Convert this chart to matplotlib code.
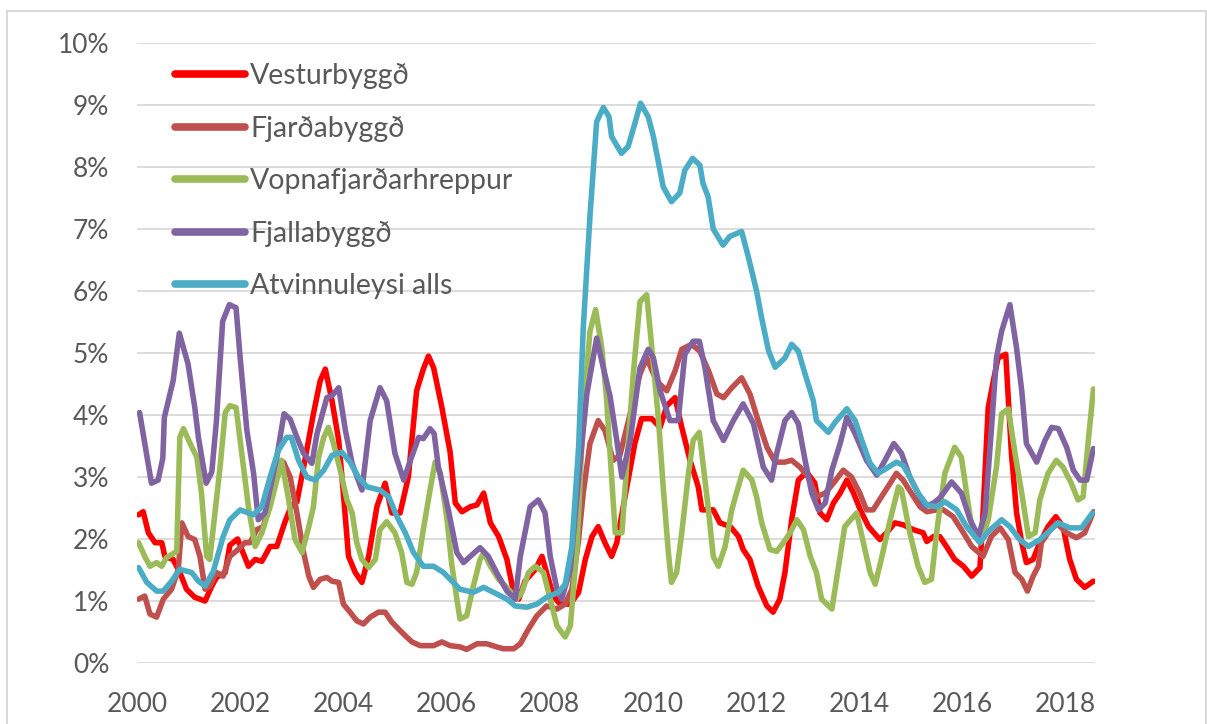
import matplotlib
matplotlib.use("Agg")
import matplotlib.pyplot as plt
from matplotlib.patches import Rectangle
from matplotlib.ticker import FuncFormatter, MultipleLocator

plt.rcParams['font.family'] = ['Lato', 'DejaVu Sans']

# ---- data (decimal year, unemployment %) ----
vest_t = [2000.03, 2000.12, 2000.22, 2000.35, 2000.48, 2000.54, 2000.70, 2000.83, 2000.96, 2001.12,
          2001.32, 2001.45, 2001.54, 2001.71, 2001.80, 2001.95, 2002.16, 2002.29, 2002.42, 2002.58,
          2002.71, 2002.87, 2003.00, 2003.10, 2003.23, 2003.42, 2003.55, 2003.65, 2003.78, 2003.91,
          2004.00, 2004.10, 2004.23, 2004.36, 2004.49, 2004.65, 2004.81, 2004.94, 2005.10, 2005.26,
          2005.42, 2005.55, 2005.65, 2005.75, 2005.91, 2006.07, 2006.17, 2006.30, 2006.46, 2006.59,
          2006.72, 2006.85, 2007.01, 2007.17, 2007.30, 2007.40, 2007.52, 2007.72, 2007.85, 2007.94,
          2008.07, 2008.20, 2008.40, 2008.56, 2008.69, 2008.82, 2008.94, 2009.07, 2009.20, 2009.30,
          2009.46, 2009.65, 2009.78, 2009.98, 2010.14, 2010.27, 2010.43, 2010.56, 2010.72, 2010.88,
          2010.95, 2011.17, 2011.30, 2011.50, 2011.66, 2011.75, 2011.88, 2012.04, 2012.21, 2012.33,
          2012.46, 2012.56, 2012.69, 2012.82, 2012.98, 2013.14, 2013.24, 2013.37, 2013.50, 2013.63,
          2013.76, 2013.89, 2014.02, 2014.18, 2014.40, 2014.53, 2014.69, 2014.85, 2015.05, 2015.24,
          2015.31, 2015.44, 2015.56, 2015.69, 2015.85, 2016.02, 2016.18, 2016.34, 2016.40, 2016.50,
          2016.60, 2016.69, 2016.84, 2016.95, 2017.05, 2017.15, 2017.24, 2017.37, 2017.50, 2017.66,
          2017.81, 2017.95, 2018.08, 2018.21, 2018.37, 2018.54]
vest_v = [2.39, 2.44, 2.10, 1.94, 1.94, 1.72, 1.67, 1.46, 1.19, 1.06,
          1.00, 1.24, 1.38, 1.46, 1.90, 2.00, 1.56, 1.67, 1.64, 1.88,
          1.88, 2.28, 2.55, 2.60, 3.16, 4.02, 4.55, 4.74, 4.23, 3.59,
          2.74, 1.72, 1.46, 1.30, 1.72, 2.52, 2.90, 2.42, 2.42, 3.00,
          4.39, 4.74, 4.95, 4.76, 4.12, 3.40, 2.58, 2.44, 2.52, 2.55,
          2.74, 2.26, 2.04, 1.67, 1.14, 1.03, 1.32, 1.51, 1.72, 1.46,
          1.08, 0.95, 0.95, 1.14, 1.67, 2.04, 2.20, 1.94, 1.72, 1.94,
          2.68, 3.54, 3.94, 3.94, 3.80, 4.15, 4.28, 3.80, 3.27, 2.84,
          2.47, 2.47, 2.26, 2.20, 2.04, 1.83, 1.67, 1.24, 0.92, 0.82,
          1.03, 1.46, 2.31, 2.95, 3.08, 2.90, 2.42, 2.31, 2.58, 2.74,
          2.95, 2.74, 2.47, 2.20, 1.99, 2.10, 2.26, 2.23, 2.15, 2.10,
          1.96, 2.04, 2.04, 1.88, 1.67, 1.56, 1.40, 1.54, 2.42, 4.12,
          4.55, 4.92, 4.98, 3.38, 2.42, 1.94, 1.62, 1.67, 1.94, 2.20,
          2.36, 2.20, 1.67, 1.35, 1.22, 1.32]

fjar_t = [2000.03, 2000.15, 2000.25, 2000.38, 2000.51, 2000.67, 2000.80, 2000.87, 2000.99, 2001.12,
          2001.22, 2001.32, 2001.41, 2001.54, 2001.67, 2001.80, 2001.96, 2002.09, 2002.19, 2002.32,
          2002.45, 2002.61, 2002.74, 2002.84, 2002.97, 2003.10, 2003.23, 2003.33, 2003.42, 2003.55,
          2003.68, 2003.78, 2003.91, 2004.00, 2004.13, 2004.26, 2004.39, 2004.52, 2004.68, 2004.81,
          2004.94, 2005.07, 2005.20, 2005.33, 2005.49, 2005.75, 2005.91, 2006.07, 2006.26, 2006.39,
          2006.59, 2006.78, 2006.97, 2007.10, 2007.30, 2007.43, 2007.59, 2007.75, 2007.94, 2008.14,
          2008.30, 2008.43, 2008.56, 2008.65, 2008.78, 2008.94, 2009.07, 2009.23, 2009.36, 2009.56,
          2009.75, 2009.88, 2010.07, 2010.27, 2010.43, 2010.56, 2010.75, 2010.91, 2011.08, 2011.24,
          2011.37, 2011.53, 2011.72, 2011.88, 2012.04, 2012.21, 2012.37, 2012.56, 2012.69, 2012.85,
          2013.01, 2013.17, 2013.34, 2013.50, 2013.69, 2013.85, 2014.01, 2014.14, 2014.27, 2014.43,
          2014.60, 2014.72, 2014.85, 2015.01, 2015.18, 2015.31, 2015.50, 2015.63, 2015.82, 2016.02,
          2016.18, 2016.40, 2016.56, 2016.73, 2016.89, 2017.02, 2017.15, 2017.26, 2017.37, 2017.47,
          2017.53, 2017.66, 2017.82, 2018.02, 2018.21, 2018.37, 2018.54]
fjar_v = [1.03, 1.08, 0.79, 0.74, 1.03, 1.19, 1.51, 2.26, 2.04, 1.99,
          1.72, 1.19, 1.24, 1.46, 1.40, 1.72, 1.83, 1.94, 1.94, 2.15,
          2.20, 2.74, 3.06, 3.24, 3.00, 2.42, 1.78, 1.40, 1.22, 1.35,
          1.38, 1.32, 1.30, 0.95, 0.82, 0.68, 0.63, 0.74, 0.82, 0.82,
          0.66, 0.55, 0.44, 0.34, 0.28, 0.28, 0.34, 0.28, 0.26, 0.22,
          0.31, 0.31, 0.26, 0.23, 0.23, 0.31, 0.55, 0.76, 0.92, 0.87,
          0.95, 1.19, 1.99, 2.74, 3.54, 3.91, 3.75, 3.27, 3.35, 4.02,
          4.66, 4.92, 4.55, 4.39, 4.71, 5.06, 5.14, 5.03, 4.71, 4.34,
          4.28, 4.44, 4.60, 4.34, 3.91, 3.48, 3.24, 3.24, 3.27, 3.16,
          3.00, 2.68, 2.74, 2.90, 3.11, 3.00, 2.74, 2.47, 2.47, 2.68,
          2.90, 3.06, 2.95, 2.74, 2.52, 2.44, 2.47, 2.47, 2.36, 2.10,
          1.88, 1.72, 2.04, 2.18, 1.99, 1.46, 1.35, 1.16, 1.40, 1.56,
          1.94, 2.10, 2.26, 2.10, 2.02, 2.10, 2.44]

vopn_t = [2000.03, 2000.15, 2000.25, 2000.38, 2000.48, 2000.57, 2000.77, 2000.83, 2000.90, 2001.03,
          2001.16, 2001.25, 2001.35, 2001.41, 2001.51, 2001.61, 2001.71, 2001.80, 2001.92, 2002.03,
          2002.16, 2002.29, 2002.42, 2002.58, 2002.71, 2002.80, 2002.93, 2003.06, 2003.20, 2003.33,
          2003.42, 2003.52, 2003.62, 2003.71, 2003.81, 2003.94, 2004.07, 2004.17, 2004.26, 2004.36,
          2004.49, 2004.62, 2004.71, 2004.84, 2005.00, 2005.13, 2005.23, 2005.33, 2005.42, 2005.55,
          2005.68, 2005.78, 2005.88, 2006.01, 2006.10, 2006.20, 2006.26, 2006.39, 2006.52, 2006.65,
          2006.72, 2006.85, 2007.01, 2007.20, 2007.36, 2007.46, 2007.59, 2007.72, 2007.88, 2008.01,
          2008.14, 2008.30, 2008.40, 2008.53, 2008.65, 2008.78, 2008.89, 2009.01, 2009.10, 2009.20,
          2009.27, 2009.40, 2009.49, 2009.62, 2009.75, 2009.88, 2009.98, 2010.11, 2010.20, 2010.30,
          2010.36, 2010.46, 2010.56, 2010.69, 2010.78, 2010.90, 2010.98, 2011.07, 2011.17, 2011.27,
          2011.40, 2011.53, 2011.62, 2011.75, 2011.92, 2012.01, 2012.11, 2012.27, 2012.40, 2012.53,
          2012.66, 2012.79, 2012.92, 2013.05, 2013.17, 2013.27, 2013.47, 2013.60, 2013.72, 2013.95,
          2014.08, 2014.21, 2014.31, 2014.44, 2014.60, 2014.76, 2014.82, 2014.98, 2015.14, 2015.27,
          2015.40, 2015.50, 2015.58, 2015.66, 2015.85, 2015.98, 2016.08, 2016.18, 2016.34, 2016.50,
          2016.66, 2016.76, 2016.89, 2017.02, 2017.15, 2017.28, 2017.41, 2017.50, 2017.66, 2017.82,
          2017.95, 2018.11, 2018.24, 2018.34, 2018.44, 2018.54]
vopn_v = [1.94, 1.72, 1.56, 1.62, 1.56, 1.70, 1.80, 3.64, 3.78, 3.54,
          3.32, 2.74, 1.72, 1.67, 2.42, 3.16, 4.04, 4.15, 4.12, 3.38,
          2.52, 1.88, 2.10, 2.52, 2.95, 3.27, 2.68, 2.00, 1.78, 2.20,
          2.52, 3.32, 3.64, 3.80, 3.54, 3.11, 2.63, 2.42, 1.94, 1.67,
          1.54, 1.67, 2.15, 2.28, 2.10, 1.78, 1.30, 1.27, 1.46, 2.15,
          2.79, 3.24, 3.06, 2.31, 1.60, 1.03, 0.71, 0.76, 1.24, 1.67,
          1.78, 1.56, 1.35, 1.19, 1.03, 1.14, 1.46, 1.56, 1.46, 1.03,
          0.60, 0.42, 0.60, 1.88, 4.02, 5.35, 5.70, 5.08, 4.28, 3.00,
          2.10, 2.10, 3.16, 4.66, 5.83, 5.94, 5.08, 3.91, 2.84, 1.78,
          1.30, 1.46, 2.10, 3.06, 3.59, 3.72, 3.16, 2.52, 1.72, 1.56,
          1.88, 2.47, 2.74, 3.11, 2.95, 2.68, 2.26, 1.83, 1.80, 1.94,
          2.10, 2.31, 2.15, 1.72, 1.46, 1.03, 0.87, 1.56, 2.20, 2.42,
          1.94, 1.46, 1.27, 1.72, 2.31, 2.84, 2.79, 2.10, 1.56, 1.30,
          1.35, 2.10, 2.60, 3.06, 3.48, 3.32, 2.74, 2.20, 1.94, 2.31,
          3.16, 4.02, 4.10, 3.38, 2.74, 2.04, 2.10, 2.63, 3.06, 3.27,
          3.16, 2.90, 2.63, 2.68, 3.59, 4.42]

fjal_t = [2000.05, 2000.15, 2000.28, 2000.41, 2000.50, 2000.53, 2000.70, 2000.82, 2000.99, 2001.12,
          2001.19, 2001.34, 2001.45, 2001.54, 2001.66, 2001.79, 2001.92, 2002.00, 2002.13, 2002.26,
          2002.35, 2002.48, 2002.71, 2002.85, 2002.97, 2003.10, 2003.23, 2003.39, 2003.49, 2003.68,
          2003.78, 2003.91, 2004.04, 2004.17, 2004.36, 2004.52, 2004.71, 2004.84, 2005.00, 2005.17,
          2005.30, 2005.46, 2005.55, 2005.68, 2005.76, 2005.84, 2006.04, 2006.20, 2006.33, 2006.46,
          2006.65, 2006.81, 2006.97, 2007.17, 2007.33, 2007.43, 2007.62, 2007.78, 2007.91, 2008.01,
          2008.14, 2008.23, 2008.40, 2008.56, 2008.72, 2008.91, 2009.04, 2009.17, 2009.30, 2009.40,
          2009.56, 2009.75, 2009.91, 2010.01, 2010.14, 2010.33, 2010.49, 2010.62, 2010.78, 2010.90,
          2011.01, 2011.17, 2011.37, 2011.56, 2011.75, 2011.95, 2012.14, 2012.30, 2012.40, 2012.56,
          2012.69, 2012.82, 2012.95, 2013.08, 2013.21, 2013.34, 2013.47, 2013.63, 2013.76, 2013.92,
          2014.14, 2014.34, 2014.50, 2014.67, 2014.82, 2014.98, 2015.14, 2015.27, 2015.44, 2015.56,
          2015.79, 2015.98, 2016.15, 2016.31, 2016.44, 2016.56, 2016.66, 2016.76, 2016.92, 2017.05,
          2017.15, 2017.24, 2017.44, 2017.60, 2017.73, 2017.86, 2018.02, 2018.15, 2018.28, 2018.41,
          2018.54]
fjal_v = [4.04, 3.54, 2.90, 2.95, 3.30, 3.96, 4.55, 5.32, 4.82, 4.12,
          3.64, 2.90, 3.08, 3.91, 5.51, 5.78, 5.73, 4.92, 3.75, 3.06,
          2.31, 2.42, 3.32, 4.02, 3.93, 3.64, 3.38, 3.22, 3.70, 4.28,
          4.31, 4.44, 3.75, 3.22, 2.79, 3.91, 4.44, 4.23, 3.38, 2.95,
          3.27, 3.64, 3.62, 3.78, 3.70, 3.17, 2.45, 1.78, 1.62, 1.72,
          1.86, 1.72, 1.46, 1.16, 1.03, 1.72, 2.52, 2.63, 2.42, 1.72,
          1.19, 1.03, 1.51, 3.00, 4.34, 5.24, 4.76, 4.30, 3.59, 3.00,
          3.59, 4.76, 5.06, 4.92, 4.39, 3.91, 3.91, 4.98, 5.19, 5.19,
          4.76, 3.91, 3.59, 3.91, 4.18, 3.86, 3.16, 2.95, 3.38, 3.91,
          4.04, 3.86, 3.27, 2.74, 2.47, 2.58, 3.11, 3.54, 3.96, 3.70,
          3.27, 3.03, 3.27, 3.54, 3.38, 3.00, 2.74, 2.52, 2.58, 2.66,
          2.92, 2.74, 2.31, 2.04, 2.42, 3.75, 4.92, 5.35, 5.78, 5.08,
          4.39, 3.54, 3.24, 3.59, 3.80, 3.78, 3.48, 3.11, 2.95, 2.95,
          3.46]

atv_t = [2000.03, 2000.19, 2000.38, 2000.51, 2000.67, 2000.83, 2001.06, 2001.19, 2001.32, 2001.48,
         2001.67, 2001.80, 2002.00, 2002.25, 2002.42, 2002.58, 2002.74, 2002.90, 2002.99, 2003.13,
         2003.29, 2003.45, 2003.62, 2003.78, 2003.97, 2004.13, 2004.29, 2004.46, 2004.71, 2004.88,
         2005.04, 2005.20, 2005.36, 2005.55, 2005.75, 2005.94, 2006.13, 2006.26, 2006.52, 2006.72,
         2006.91, 2007.17, 2007.33, 2007.56, 2007.75, 2007.94, 2008.17, 2008.30, 2008.43, 2008.56,
         2008.65, 2008.78, 2008.91, 2009.04, 2009.15, 2009.20, 2009.39, 2009.52, 2009.65, 2009.76,
         2009.91, 2010.01, 2010.20, 2010.36, 2010.52, 2010.62, 2010.77, 2010.91, 2010.97, 2011.07,
         2011.17, 2011.36, 2011.49, 2011.72, 2011.85, 2012.01, 2012.10, 2012.24, 2012.37, 2012.56,
         2012.69, 2012.82, 2012.95, 2013.11, 2013.17, 2013.40, 2013.53, 2013.76, 2013.92, 2014.05,
         2014.21, 2014.37, 2014.53, 2014.72, 2014.85, 2014.98, 2015.14, 2015.31, 2015.50, 2015.66,
         2015.89, 2016.08, 2016.34, 2016.50, 2016.76, 2016.92, 2017.11, 2017.28, 2017.50, 2017.86,
         2018.08, 2018.31, 2018.52]
atv_v = [1.54, 1.30, 1.16, 1.16, 1.32, 1.51, 1.46, 1.32, 1.24, 1.48,
         2.04, 2.31, 2.47, 2.39, 2.52, 3.00, 3.43, 3.64, 3.64, 3.27,
         3.00, 2.95, 3.11, 3.35, 3.40, 3.24, 3.00, 2.84, 2.79, 2.68,
         2.36, 2.10, 1.78, 1.56, 1.56, 1.46, 1.30, 1.19, 1.14, 1.22,
         1.14, 1.03, 0.92, 0.90, 0.95, 1.06, 1.14, 1.27, 1.88, 3.48,
         5.40, 7.20, 8.73, 8.96, 8.81, 8.49, 8.22, 8.33, 8.70, 9.03,
         8.81, 8.49, 7.68, 7.44, 7.58, 7.95, 8.14, 8.03, 7.74, 7.52,
         7.00, 6.74, 6.88, 6.96, 6.55, 6.00, 5.60, 5.04, 4.77, 4.92,
         5.14, 5.03, 4.66, 4.23, 3.91, 3.72, 3.88, 4.10, 3.91, 3.59,
         3.22, 3.06, 3.14, 3.24, 3.19, 3.00, 2.74, 2.55, 2.52, 2.60,
         2.47, 2.20, 1.94, 2.12, 2.31, 2.20, 1.99, 1.88, 1.99, 2.26,
         2.18, 2.18, 2.42]

series = [
    ("Vesturbyggð", vest_t, vest_v, "#ff0000"),
    ("Fjarðabyggð", fjar_t, fjar_v, "#c0504d"),
    ("Vopnafjarðarhreppur", vopn_t, vopn_v, "#9bbb59"),
    ("Fjallabyggð", fjal_t, fjal_v, "#8064a2"),
    ("Atvinnuleysi alls", atv_t, atv_v, "#4bacc6"),
]
year_ticks = list(range(2000, 2019, 2))

# ---- figure ----
W, H = 1207, 724
fig = plt.figure(figsize=(W / 100, H / 100), dpi=100)
fig.patch.set_facecolor("white")
ax = fig.add_axes([137 / W, (H - 663) / H, (1095 - 137) / W, (663 - 43) / H])

for i, (name, t, v, col) in enumerate(series):
    ax.plot(t, v, color=col, lw=4.0, label=name, solid_joinstyle="round",
            solid_capstyle="round", zorder=3 + i)

ax.set_xlim(2000.0, 2018.57)
ax.set_ylim(0, 10)
ax.yaxis.set_major_locator(MultipleLocator(1))
ax.yaxis.set_major_formatter(FuncFormatter(lambda y, _: f"{y:.0f}%"))
ax.set_xticks(year_ticks)
ax.set_xticklabels([str(y) for y in year_ticks])
ax.grid(axis="y", color="#d9d9d9", lw=1.3, zorder=0)
ax.set_axisbelow(True)
for s in ax.spines.values():
    s.set_visible(False)
ax.tick_params(axis="both", length=0, labelsize=19, labelcolor="#595959")
ax.tick_params(axis="y", pad=20)
ax.tick_params(axis="x", pad=21)

leg_fs = 20.5
leg = ax.legend(loc="upper left", bbox_to_anchor=(38 / 958, 1 - 20 / 620),
                frameon=False, fontsize=leg_fs, handlelength=2.46, handletextpad=0.18,
                labelspacing=0.93, borderaxespad=0, borderpad=0)
for txt in leg.get_texts():
    txt.set_color("#595959")
for line in leg.get_lines():
    line.set_linewidth(5.5)
    line.set_solid_capstyle("round")

fig.patches.append(Rectangle((7 / W, -0.05), (1206 - 7) / W, (H - 11) / H + 0.05,
                             transform=fig.transFigure, fill=False,
                             edgecolor="#d9d9d9", lw=1.5))

fig.savefig("out.png", dpi=100)
